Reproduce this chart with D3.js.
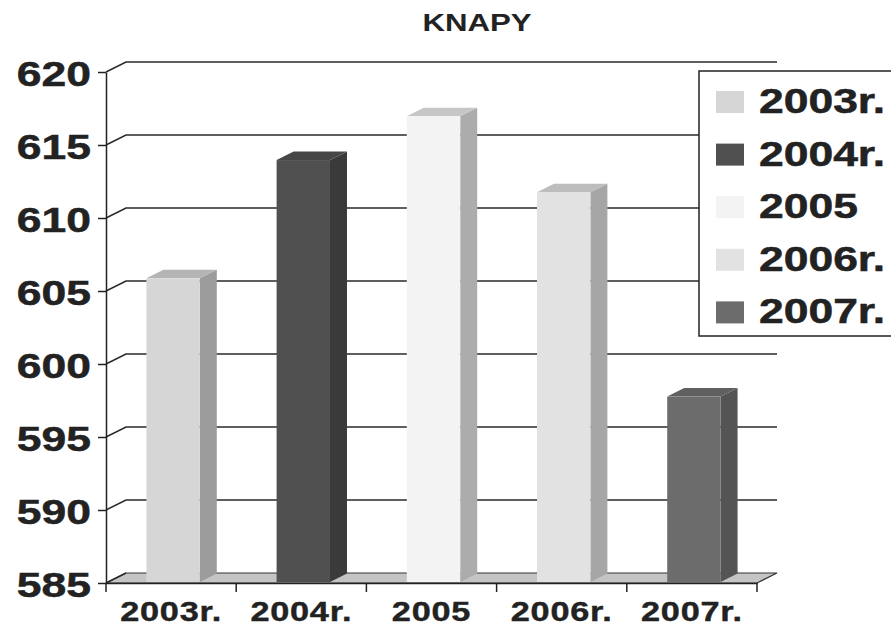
<!DOCTYPE html>
<html>
<head>
<meta charset="utf-8">
<script src="https://cdn.jsdelivr.net/npm/d3@7"></script>
<style>
  body { margin: 0; background: #fff; }
  text { font-family: "Liberation Sans", Arial, sans-serif; font-weight: bold; fill: #222; }
</style>
</head>
<body>
<svg id="chart" width="891" height="627"></svg>
<script>
// chart data
const categories = ['2003r.', '2004r.', '2005', '2006r.', '2007r.']
const values = [605.8, 613.9, 616.9, 611.7, 597.7]
const yTicks = [585, 590, 595, 600, 605, 610, 615, 620]

// colours per bar: front, side, top
const faceColors = [
    ['#d6d6d6', '#9c9c9c', '#b4b4b4'],
    ['#505050', '#3a3a3a', '#464646'],
    ['#f3f3f3', '#acacac', '#c6c6c6'],
    ['#e2e2e2', '#a6a6a6', '#bdbdbd'],
    ['#6c6c6c', '#545454', '#606060']
]

const SX = 1.27        // the original text is stretched sideways
const DX = 20, DY = -10 // depth vector of the 3d box

const svg = d3.select('#chart')

const y = d3.scaleLinear().domain([585, 620]).range([583, 72])
const xb = d3.scaleBand().domain(categories).range([106, 757])
const xBar = d3.scaleBand().domain(categories).range([106, 757])
    .paddingInner(0.59).paddingOuter(0.295)

// floor
const y0 = y(585)
svg.append('polygon')
    .attr('points', [[106, y0], [757, y0], [757 + DX, y0 + DY], [106 + DX, y0 + DY]].join(' '))
    .attr('fill', '#c4c4c4')
    .attr('stroke', '#333')
    .attr('stroke-width', 1.2)

// gridlines on the left wall and back wall
svg.selectAll('path.grid')
    .data(yTicks.filter(t => t > 585))
    .enter()
    .append('path')
    .attr('class', 'grid')
    .attr('d', t => 'M106,' + y(t) + 'L' + (106 + DX) + ',' + (y(t) + DY) + 'L' + (757 + DX) + ',' + (y(t) + DY))
    .attr('fill', 'none')
    .attr('stroke', '#2a2a2a')
    .attr('stroke-width', 1.5)
svg.append('path')
    .attr('d', 'M106,' + y0 + 'L' + (106 + DX) + ',' + (y0 + DY))
    .attr('stroke', '#2a2a2a')
    .attr('stroke-width', 1.5)

// bars
const d0 = 0.1, d1 = 0.95
const bw = xBar.bandwidth()
const bars = svg.selectAll('g.bar')
    .data(categories.map((c, i) => ({ c: c, v: values[i], col: faceColors[i] })))
    .enter()
    .append('g')
    .attr('class', 'bar')

bars.each(function (d) {
    const g = d3.select(this)
    const x0 = xBar(d.c) + d0 * DX
    const x1 = x0 + bw
    const yt = y(d.v) + d0 * DY
    const yb = y0 + d0 * DY
    const ddx = (d1 - d0) * DX, ddy = (d1 - d0) * DY
    g.append('polygon')
        .attr('points', [[x1, yt], [x1 + ddx, yt + ddy], [x1 + ddx, yb + ddy], [x1, yb]].join(' '))
        .attr('fill', d.col[1])
    g.append('polygon')
        .attr('points', [[x0, yt], [x1, yt], [x1 + ddx, yt + ddy], [x0 + ddx, yt + ddy]].join(' '))
        .attr('fill', d.col[2])
    g.append('rect')
        .attr('x', x0)
        .attr('y', yt)
        .attr('width', bw)
        .attr('height', yb - yt)
        .attr('fill', d.col[0])
})

// left axis
const yAxis = svg.append('g')
    .attr('transform', 'translate(106,0)')
    .call(d3.axisLeft(y).tickValues(yTicks).tickSize(8).tickSizeOuter(0))
yAxis.selectAll('path, line').attr('stroke', '#222').attr('stroke-width', 1.5)
yAxis.selectAll('text')
    .attr('x', null)
    .attr('dy', null)
    .attr('transform', 'translate(-15,13) scale(' + SX + ',1)')
    .attr('text-anchor', 'end')
    .style('font-size', '35px')
    .style('font-family', '"Liberation Sans", Arial, sans-serif')
    .attr('fill', '#222')
    .attr('stroke', '#222')
    .attr('stroke-width', 0.5)

// bottom axis: ticks on the category boundaries, labels in the middle
const xAxis = svg.append('g')
    .attr('transform', 'translate(0,' + y0 + ')')
    .call(d3.axisBottom(xb).tickSize(0).tickSizeOuter(0))
xAxis.select('path').attr('stroke', '#222').attr('stroke-width', 1.5)
xAxis.selectAll('text')
    .attr('y', null)
    .attr('dy', null)
    .attr('transform', 'translate(0,38) scale(' + SX + ',1)')
    .style('font-size', '27px')
    .style('font-family', '"Liberation Sans", Arial, sans-serif')
    .style('letter-spacing', '0.6px')
    .attr('fill', '#222')
    .attr('stroke', '#222')
    .attr('stroke-width', 0.4)
svg.selectAll('line.xtick')
    .data(d3.range(categories.length + 1))
    .enter()
    .append('line')
    .attr('class', 'xtick')
    .attr('x1', i => 106 + i * xb.step())
    .attr('x2', i => 106 + i * xb.step())
    .attr('y1', y0)
    .attr('y2', y0 + 9)
    .attr('stroke', '#222')
    .attr('stroke-width', 1.5)

// title
svg.append('text')
    .attr('transform', 'translate(477,31) scale(1.3,1)')
    .attr('text-anchor', 'middle')
    .style('font-size', '24px')
    .text('KNAPY')

// legend
const legend = svg.append('g')
legend.append('rect')
    .attr('x', 699)
    .attr('y', 71)
    .attr('width', 220)
    .attr('height', 265)
    .attr('fill', '#fff')
    .attr('stroke', '#222')
    .attr('stroke-width', 1.5)
const item = legend.selectAll('g.item')
    .data(categories)
    .enter()
    .append('g')
    .attr('class', 'item')
    .attr('transform', (d, i) => 'translate(0,' + (113 + i * 52.6) + ')')
item.append('rect')
    .attr('x', 716)
    .attr('y', -22)
    .attr('width', 28)
    .attr('height', 22)
    .attr('fill', (d, i) => faceColors[i][0])
item.append('text')
    .attr('transform', 'translate(759,0) scale(' + SX + ',1)')
    .style('font-size', '35px')
    .attr('stroke', '#222')
    .attr('stroke-width', 0.5)
    .text(d => d)
</script>
</body>
</html>
